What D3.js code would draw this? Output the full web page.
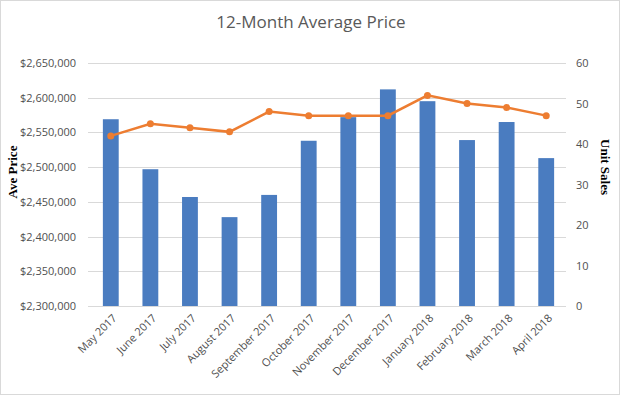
<!DOCTYPE html>
<html>
<head>
<meta charset="utf-8">
<script src="https://cdn.jsdelivr.net/npm/d3@7"></script>
<style>
  body { margin: 0; background: #fff; }
  svg text { font-family: "Open Sans", "Liberation Sans", sans-serif; }
</style>
</head>
<body>
<svg></svg>
<script>
let width = 621,
    height = 396,
    svg = d3.select("svg")
        .attr("width", width)
        .attr("height", height)

// data
let months = ["May 2017", "June 2017", "July 2017", "August 2017", "September 2017", "October 2017",
    "November 2017", "December 2017", "January 2018", "February 2018", "March 2018", "April 2018"];
let avePrice = [2569000, 2497000, 2457000, 2428000, 2460000, 2538000,
    2572000, 2612000, 2595000, 2539000, 2565000, 2513000];
let unitSales = [42, 45, 44, 43, 48, 47, 47, 47, 52, 50, 49, 47];
let priceTicks = [2300000, 2350000, 2400000, 2450000, 2500000, 2550000, 2600000, 2650000];
let salesTicks = [0, 10, 20, 30, 40, 50, 60];

let margin = {left: 91, right: 55, top: 63, bottom: 90};
let x = d3.scaleBand().domain(months).range([margin.left, width - margin.right]).paddingInner(0.6).paddingOuter(0.3);
let xc = d3.scalePoint().domain(months).range([margin.left, width - margin.right]).padding(0.5);
let yL = d3.scaleLinear().domain([2300000, 2650000]).range([height - margin.bottom, margin.top]);
let yR = d3.scaleLinear().domain([0, 60]).range([height - margin.bottom, margin.top]);

// outer border
svg.append("rect")
    .attr("x", 0.5).attr("y", 0.5)
    .attr("width", width - 2).attr("height", height - 2)
    .attr("fill", "#fff").attr("stroke", "#d9d9d9")

// gridlines
svg.append("g")
    .selectAll("line")
    .data(priceTicks)
    .enter().append("line")
    .attr("x1", margin.left - 3).attr("x2", width - margin.right)
    .attr("y1", d => Math.round(yL(d)) + 0.5).attr("y2", d => Math.round(yL(d)) + 0.5)
    .attr("stroke", "#d9d9d9")

// left axis
let leftAxis = svg.append("g")
    .attr("transform", "translate(" + (margin.left - 12) + ",0)")
    .call(d3.axisLeft(yL).tickValues(priceTicks).tickSize(0).tickFormat(d => "$" + d3.format(",")(d)))
leftAxis.select(".domain").remove()
leftAxis.selectAll("text").attr("fill", "#505050").attr("font-size", "11px")

// right axis
let rightAxis = svg.append("g")
    .attr("transform", "translate(" + (width - margin.right + 7) + ",0)")
    .call(d3.axisRight(yR).tickValues(salesTicks).tickSize(0))
rightAxis.select(".domain").remove()
rightAxis.selectAll("text").attr("fill", "#505050").attr("font-size", "11px")

// bars
svg.append("g")
    .selectAll("rect")
    .data(months)
    .enter().append("rect")
    .attr("x", d => x(d))
    .attr("width", x.bandwidth())
    .attr("y", (d, i) => yL(avePrice[i]))
    .attr("height", (d, i) => yL(2300000) - yL(avePrice[i]))
    .attr("fill", "#4a7cc0")

// line
let line = d3.line()
    .x((d, i) => xc(months[i]))
    .y(d => yR(d))
svg.append("path")
    .datum(unitSales)
    .attr("d", line)
    .attr("fill", "none")
    .attr("stroke", "#ed7d31")
    .attr("stroke-width", 2.5)
svg.append("g")
    .selectAll("circle")
    .data(unitSales)
    .enter().append("circle")
    .attr("cx", (d, i) => xc(months[i]))
    .attr("cy", d => yR(d))
    .attr("r", 3.5)
    .attr("fill", "#ed7d31")

// x labels
svg.append("g")
    .selectAll("text")
    .data(months)
    .enter().append("text")
    .attr("transform", d => "translate(" + (xc(d) + 4) + "," + (height - margin.bottom + 10) + ") rotate(-45)")
    .attr("text-anchor", "end")
    .attr("dy", "0.35em")
    .attr("fill", "#505050")
    .attr("font-size", "11px")
    .text(d => d)

// title
svg.append("text")
    .attr("x", 311).attr("y", 28)
    .attr("text-anchor", "middle")
    .attr("fill", "#595959")
    .attr("font-size", "17px")
    .text("12-Month Average Price")

// axis titles
svg.append("text")
    .attr("transform", "translate(17,172) rotate(-90)")
    .attr("text-anchor", "middle")
    .attr("font-weight", "bold")
    .attr("font-size", "13px")
    .style("font-family", "'Liberation Serif', serif")
    .text("Ave Price")
svg.append("text")
    .attr("transform", "translate(601,167) rotate(90)")
    .attr("text-anchor", "middle")
    .attr("font-weight", "bold")
    .attr("font-size", "13px")
    .style("font-family", "'Liberation Serif', serif")
    .text("Unit Sales")
</script>
</body>
</html>
